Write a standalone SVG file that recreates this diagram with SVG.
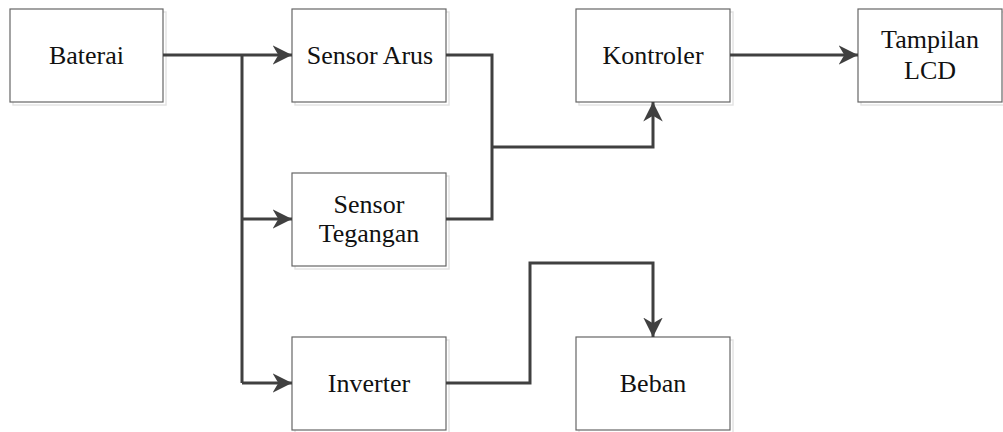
<svg xmlns="http://www.w3.org/2000/svg" width="1003" height="432" viewBox="0 0 1003 432">
  <style>
    .box { fill: #ffffff; stroke: #666666; stroke-width: 1.2; }
    .shadow { fill: none; stroke: #e4e4e4; stroke-width: 1.5; }
    .label { font-family: "Liberation Serif", "Times New Roman", serif; font-size: 26px; fill: #111111; text-anchor: middle; }
    .wire { fill: none; stroke: #404040; stroke-width: 3; stroke-linejoin: miter; }
  </style>
  <defs>
    <marker id="arrow" viewBox="0 0 10 10" refX="10" refY="5" markerWidth="6.5" markerHeight="6.5" markerUnits="strokeWidth" orient="auto">
      <path d="M0,0 L10,5 L0,10 L3,5 Z" fill="#404040"/>
    </marker>
  </defs>
  <rect width="1003" height="432" fill="#ffffff"/>

  <g id="baterai">
    <rect class="shadow" x="13" y="12" width="153" height="93"/>
    <rect class="box" x="10" y="9" width="153" height="93"/>
    <text class="label" x="86.5" y="64">Baterai</text>
  </g>
  <g id="sensor-arus">
    <rect class="shadow" x="295" y="12" width="154" height="93"/>
    <rect class="box" x="292" y="9" width="154" height="93"/>
    <text class="label" x="370" y="64">Sensor Arus</text>
  </g>
  <g id="sensor-tegangan">
    <rect class="shadow" x="295" y="176" width="154" height="93"/>
    <rect class="box" x="292" y="173" width="154" height="93"/>
    <text class="label" x="369" y="213">Sensor</text>
    <text class="label" x="369" y="242">Tegangan</text>
  </g>
  <g id="kontroler">
    <rect class="shadow" x="579" y="12" width="154" height="93"/>
    <rect class="box" x="576" y="9" width="154" height="93"/>
    <text class="label" x="653" y="64">Kontroler</text>
  </g>
  <g id="tampilan-lcd">
    <rect class="shadow" x="861" y="12" width="144" height="93"/>
    <rect class="box" x="858" y="9" width="144" height="93"/>
    <text class="label" x="930" y="48">Tampilan</text>
    <text class="label" x="930" y="79">LCD</text>
  </g>
  <g id="inverter">
    <rect class="shadow" x="295" y="340" width="154" height="93"/>
    <rect class="box" x="292" y="337" width="154" height="93"/>
    <text class="label" x="369" y="392">Inverter</text>
  </g>
  <g id="beban">
    <rect class="shadow" x="579" y="340" width="154" height="93"/>
    <rect class="box" x="576" y="337" width="154" height="93"/>
    <text class="label" x="653" y="392">Beban</text>
  </g>

  <g id="connectors">
    <!-- battery feed to the two sensors and the inverter -->
    <path class="wire" d="M163,55 H292" marker-end="url(#arrow)"/>
    <path class="wire" d="M242,55 V383"/>
    <path class="wire" d="M242,219 H292" marker-end="url(#arrow)"/>
    <path class="wire" d="M242,383 H292" marker-end="url(#arrow)"/>
    <!-- sensor outputs merge into the controller -->
    <path class="wire" d="M446,55 H492 V219 H446"/>
    <path class="wire" d="M492,147 H653 V102" marker-end="url(#arrow)"/>
    <!-- controller to display -->
    <path class="wire" d="M730,55 H858" marker-end="url(#arrow)"/>
    <!-- inverter to load -->
    <path class="wire" d="M446,383 H530 V263 H653 V337" marker-end="url(#arrow)"/>
  </g>
</svg>
